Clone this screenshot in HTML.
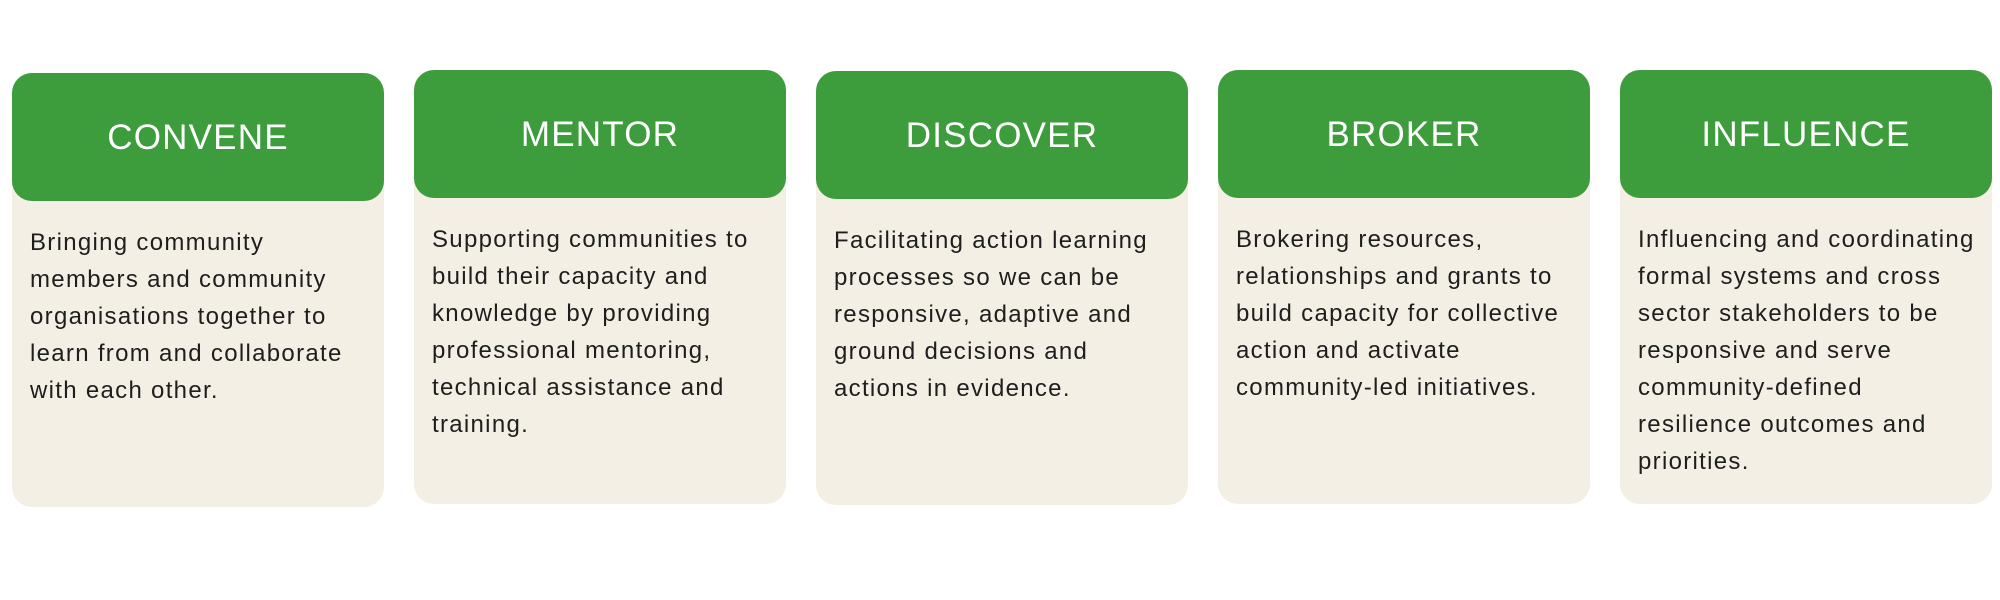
<!DOCTYPE html>
<html><head><style>
body{margin:0;width:2000px;height:600px;background:#fff;position:relative;overflow:hidden;font-family:"Liberation Sans",sans-serif;}
.card{position:absolute;width:372px;height:434px;background:#f3efe5;border-radius:20px;}
.hd{position:absolute;left:0;top:0;width:372px;height:128px;background:#3d9c3c;border-radius:20px;color:#fff;font-size:35px;letter-spacing:1.2px;text-align:center;line-height:130px;}
.bd{position:absolute;left:18px;top:151px;width:360px;font-size:24px;line-height:37px;letter-spacing:1.3px;color:#1e1e1e;white-space:nowrap;}
</style></head><body>
<div class="card" style="left:12px;top:73px"><div class="hd">CONVENE</div><div class="bd">Bringing community<br>members and community<br>organisations together to<br>learn from and collaborate<br>with each other.</div></div>
<div class="card" style="left:414px;top:70px"><div class="hd">MENTOR</div><div class="bd">Supporting communities to<br>build their capacity and<br>knowledge by providing<br>professional mentoring,<br>technical assistance and<br>training.</div></div>
<div class="card" style="left:816px;top:71px"><div class="hd">DISCOVER</div><div class="bd">Facilitating action learning<br>processes so we can be<br>responsive, adaptive and<br>ground decisions and<br>actions in evidence.</div></div>
<div class="card" style="left:1218px;top:70px"><div class="hd">BROKER</div><div class="bd">Brokering resources,<br>relationships and grants to<br>build capacity for collective<br>action and activate<br>community-led initiatives.</div></div>
<div class="card" style="left:1620px;top:70px"><div class="hd">INFLUENCE</div><div class="bd">Influencing and coordinating<br>formal systems and cross<br>sector stakeholders to be<br>responsive and serve<br>community-defined<br>resilience outcomes and<br>priorities.</div></div>
</body></html>
